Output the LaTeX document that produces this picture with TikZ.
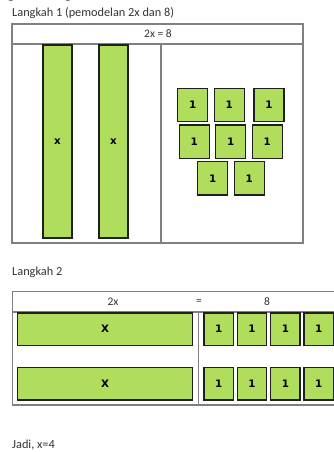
\documentclass[tikz,border=0pt]{standalone}
\usepackage{fontspec}
\setmainfont{Carlito}
\newfontfamily\tilefont{DejaVu Sans}
\begin{document}
\begin{tikzpicture}[x=1pt,y=-1pt,
  frame/.style={draw=black!50,line width=1.1pt},
  tile/.style={draw=black!88,line width=1.2pt,fill=tilegreen},
  tilelbl/.style={font=\tilefont\bfseries\fontsize{10.3}{11}\selectfont,inner sep=0pt},
  caption/.style={anchor=west,font=\fontsize{12.3}{14}\selectfont,text=black!80,inner sep=0pt},
  head/.style={font=\fontsize{11.5}{13}\selectfont,text=black!80,inner sep=0pt}]
\definecolor{tilegreen}{RGB}{176,222,92}
\useasboundingbox (0,0) rectangle (334,452);
\clip (0,0) rectangle (334,452);

% heading above, cut at the top edge
\node[anchor=base west,font=\bfseries\fontsize{16}{18}\selectfont,inner sep=0pt,text=black!80] (title) at (-16,-1.5) {Langkah-langkah};

% ---- Step 1 ----
\node[caption] (cap1) at (12,13) {Langkah 1 (pemodelan 2x dan 8)};
\draw[frame] (12,24) rectangle (303,243);
\draw[frame] (12,44) -- (303,44);
\draw[frame] (161,44) -- (161,243);
\node[head] (h1) at (158,34) {2x = 8};

% two x-bars
\draw[tile] (43,45) rectangle (72,238);
\node[tilelbl] (xa) at (57.5,142) {x};
\draw[tile] (99,45) rectangle (128,238);
\node[tilelbl] (xb) at (113.5,142) {x};

% eight unit tiles
\foreach \x/\y [count=\i] in {177.7/88.3,214.3/88.3,254/88.3,
                              179.3/125,215.7/125,252.3/125,
                              197.7/161.7,234.3/161.7}{
  \draw[tile] (\x,\y) rectangle ++(30,33.3);
  \node[tilelbl] (u\i) at (\x+15,\y+16.6) {1};
}

% ---- Step 2 ----
\node[caption] (cap2) at (12,272.7) {Langkah 2};
\draw[frame] (340,291.7) -- (12.3,291.7) -- (12.3,405) -- (340,405);
\draw[frame] (12.3,312) -- (340,312);
\draw[frame] (198.3,312) -- (198.3,405);
\node[head] (h2a) at (113,301.7) {2x};
\node[head] (h2b) at (199,301.7) {=};
\node[head] (h2c) at (267,301.7) {8};

\foreach \y/\r in {313/a,367.7/b}{
  \draw[tile] (17.3,\y) rectangle (192.7,\y+32.3);
  \node[tilelbl] (X\r) at (105,\y+16.2) {X};
  \foreach \x [count=\j] in {204,237.3,270.7,304}{
    \draw[tile] (\x,\y) rectangle ++(29.3,32.3);
    \node[tilelbl] (v\r\j) at (\x+14.7,\y+16.2) {1};
  }
}

\node[caption] (res) at (12,445) {Jadi, x=4};
\end{tikzpicture}
\end{document}
